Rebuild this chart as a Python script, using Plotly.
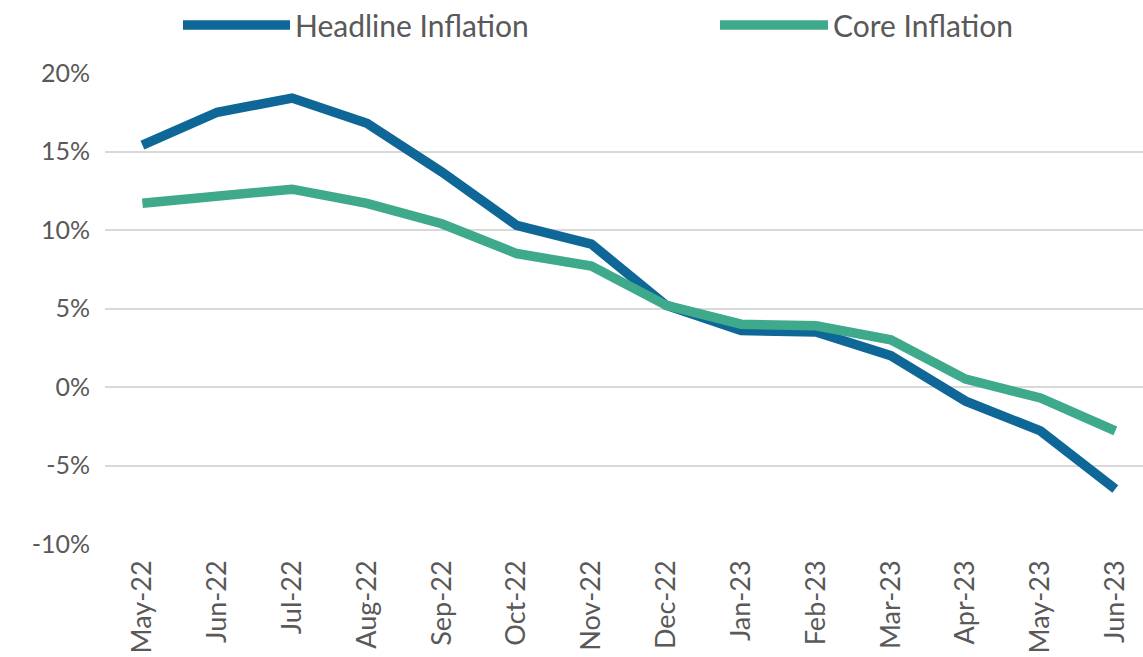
import plotly.graph_objects as go

months = ["May-22", "Jun-22", "Jul-22", "Aug-22", "Sep-22", "Oct-22", "Nov-22",
          "Dec-22", "Jan-23", "Feb-23", "Mar-23", "Apr-23", "May-23", "Jun-23"]
headline = [15.4, 17.5, 18.4, 16.8, 13.7, 10.3, 9.1, 5.2, 3.6, 3.5, 2.0, -0.9, -2.8, -6.5]
core = [11.7, 12.2, 12.6, 11.7, 10.4, 8.5, 7.7, 5.2, 4.0, 3.9, 3.0, 0.5, -0.7, -2.8]
y_ticks = [-10, -5, 0, 5, 10, 15, 20]
y_labels = ["-10%", "-5%", "0%", "5%", "10%", "15%", "20%"]

headline_color = "#0f6797"
core_color = "#3ea98b"
text_color = "#595959"
font_family = "Lato"

x_idx = list(range(len(months)))

fig = go.Figure()
fig.add_trace(go.Scatter(x=x_idx, y=headline, mode="lines", name="Headline Inflation",
                         line=dict(color=headline_color, width=9.5), showlegend=False))
fig.add_trace(go.Scatter(x=x_idx, y=core, mode="lines", name="Core Inflation",
                         line=dict(color=core_color, width=9.5), showlegend=False))

# Custom legend (long line symbols)
legend_items = [("Headline Inflation", headline_color, 183, 290),
                ("Core Inflation", core_color, 720, 828)]
for name, color, x0, x1 in legend_items:
    fig.add_shape(type="line", xref="paper", yref="paper",
                  x0=(x0 - 105) / 1038, x1=(x1 - 105) / 1038,
                  y0=(544 - 25) / 471, y1=(544 - 25) / 471,
                  line=dict(color=color, width=9.5))
    fig.add_annotation(xref="paper", yref="paper", x=(x1 + 3 - 105) / 1038,
                       y=(544 - 25) / 471, text=name, showarrow=False,
                       xanchor="left", yanchor="middle",
                       font=dict(family=font_family, size=30, color=text_color))

fig.update_layout(
    width=1143, height=657,
    margin=dict(l=105, r=0, t=73, b=113),
    paper_bgcolor="white", plot_bgcolor="white",
    font=dict(family=font_family, color=text_color),
)
fig.update_xaxes(
    tickmode="array", tickvals=x_idx, ticktext=months, tickangle=-90,
    range=[-0.5, 13.37], showgrid=False, zeroline=False, showline=False,
    tickfont=dict(size=27, color=text_color), ticklabelstandoff=10,
)
fig.update_yaxes(
    tickmode="array", tickvals=y_ticks, ticktext=y_labels, range=[-10, 20],
    showgrid=True, gridcolor="#d9d9d9", gridwidth=2, zeroline=False, showline=False,
    tickfont=dict(size=25, color=text_color), ticklabelstandoff=14,
)

fig.write_html("out.html")
